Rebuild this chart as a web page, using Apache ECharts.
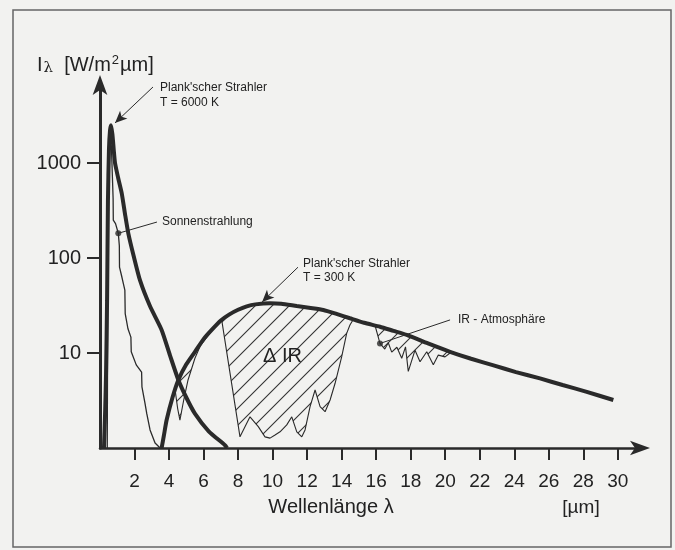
<!DOCTYPE html>
<html><head><meta charset="utf-8">
<script src="https://cdn.jsdelivr.net/npm/echarts@6/dist/echarts.min.js"></script>
<style>html,body{margin:0;padding:0;background:#f2f2f0;}#c{width:675px;height:550px;}</style>
</head><body><div id="c"></div>
<script>
const xTicks = [2,4,6,8,10,12,14,16,18,20,22,24,26,28,30];
const yTicks = [10,100,1000];

const planck6000 = [[0.23,1],[0.3,2.5],[0.35,6],[0.41,36],[0.46,400],[0.52,1400],[0.58,2200],[0.64,2500],[0.72,2000],[0.8,1350],[0.87,1000],[1.05,700],[1.26,480],[1.45,290],[1.64,182],[1.95,105],[2.32,58],[2.9,31],[3.57,17.5],[4.05,9.5],[4.54,5.2],[5.0,3.4],[5.5,2.3],[6.3,1.5],[7.24,1.07],[7.36,1]];

const sun = [[0.42,1],[0.45,60],[0.48,500],[0.53,1300],[0.6,1750],[0.66,1500],[0.72,700],[0.76,420],[0.77,250],[0.9,230],[1.06,182],[1.12,135],[1.13,80],[1.25,65],[1.35,54],[1.44,46],[1.46,26],[1.62,18],[1.79,14.7],[1.81,10.3],[2.1,7.5],[2.41,6.3],[2.43,4.4],[2.6,3.0],[2.71,2.3],[2.9,1.55],[3.19,1.13],[3.48,1.0]];

const planck300 = [[3.57,1],[3.7,1.35],[3.86,1.97],[4.2,3.4],[4.54,5.2],[5.0,7.6],[5.5,10.3],[6.0,14],[6.47,17.5],[7.0,22],[7.5,25.5],[8.0,28.5],[8.5,31],[9.0,32.5],[9.85,33.4],[10.5,33],[11.4,31.2],[12.2,29.8],[12.94,28.4],[13.7,25.8],[14.48,23.2],[15.3,20.8],[16.22,18.9],[17.0,17.1],[17.77,15.5],[19.0,12.6],[20.28,10.3],[21.5,8.7],[22.8,7.4],[24.1,6.3],[25.49,5.4],[26.8,4.6],[28.2,3.9],[29.74,3.2]];

const irLeft = [[4.35,4.1],[4.5,2.6],[4.63,1.97],[4.85,3.2],[5.1,5.2],[5.5,8.8],[5.8,11.8],[6.4,16.5],[7.05,22.3]];
const irMid = [[7.05,22.3],[8.11,1.31],[8.69,2.13],[9.17,1.68],[9.56,1.31],[9.85,1.27],[10.14,1.37],[10.43,1.48],[10.82,1.75],[11.11,2.13],[11.4,1.48],[11.69,1.31],[11.88,1.55],[12.17,2.72],[12.46,4.08],[12.75,2.72],[13.04,2.41],[13.33,3.2],[13.62,4.8],[14.0,9.1],[14.29,16.1],[14.48,19.7],[14.68,22.7]];
const irRight = [[15.93,19.6],[16.22,12.6],[16.5,11.0],[16.7,12.8],[16.9,10.2],[17.2,11.5],[17.48,8.8],[17.7,11.6],[17.86,6.4],[18.25,10.7],[18.54,8.1],[18.93,10.3],[19.31,7.5],[19.6,9.5],[19.99,9.1],[20.28,10.0],[20.6,9.9]];

const dots = [[1.06,182],[16.22,12.6]];
// pointer lines: [start, end, end symbol]
const pointers = [
  [[3.07,6310],[0.87,2640],'arrow'],
  [[11.47,80],[9.39,34.4],'arrow'],
  [[3.3,239],[1.06,182],'none'],
  [[20.28,22.3],[16.22,12.6],'none']
];

const hatchRegions = [irLeft, irMid, irRight].map(function (low) {
  const x0 = low[0][0], x1 = low[low.length - 1][0];
  const up = planck300.filter(function (p) { return p[0] > x0 && p[0] < x1; }).reverse();
  return low.concat(up);
});

const ink = '#2a2a2a';
const font = 'Liberation Sans, Arial, sans-serif';

const tile = document.createElement('canvas');
const S = 17;
tile.width = S; tile.height = S;
(function () {
  const c = tile.getContext('2d');
  c.strokeStyle = '#333'; c.lineWidth = 1.1;
  c.beginPath();
  c.moveTo(-2, S + 2); c.lineTo(S + 2, -2);
  c.moveTo(-2, 2); c.lineTo(2, -2);
  c.moveTo(S - 2, S + 2); c.lineTo(S + 2, S - 2);
  c.stroke();
})();

const chart = echarts.init(document.getElementById('c'), null, {renderer: 'canvas'});
const irLine = irLeft.concat(irMid.slice(1)).concat([['-','-']]).concat(irRight);

chart.setOption({
  backgroundColor: '#f2f2f0',
  animation: false,
  grid: {left: 100, right: 33, top: 83, bottom: 102},
  xAxis: {
    type: 'value', min: 0, max: 31.4,
    splitLine: {show: false},
    axisLine: {lineStyle: {color: ink, width: 2.5}, symbol: ['none', 'arrow'], symbolSize: [11, 20], symbolOffset: [0, 8]},
    axisTick: {customValues: xTicks, length: 12, lineStyle: {color: ink, width: 2}},
    axisLabel: {customValues: xTicks, margin: 24, fontSize: 19, color: '#222', fontFamily: font,
      formatter: function (v) { return String(v); }}
  },
  yAxis: {
    type: 'log', min: 1, max: 6950, logBase: 10,
    splitLine: {show: false},
    axisLine: {lineStyle: {color: ink, width: 3}, symbol: ['none', 'arrow'], symbolSize: [11, 20], symbolOffset: [0, 8]},
    axisTick: {customValues: yTicks, length: 13, lineStyle: {color: ink, width: 2}},
    axisLabel: {customValues: yTicks, margin: 19, fontSize: 20, color: '#222', fontFamily: font,
      formatter: function (v) { return String(Math.round(v)); }}
  },
  graphic: [
    {type: 'rect', shape: {x: 13, y: 10, width: 658, height: 537}, style: {fill: null, stroke: '#666', lineWidth: 1.5}, z: -10},
    {type: 'text', x: 37, y: 65, style: {text: '{a|I}{b|λ}{a|  [W/m}{s|2}{a|µm]}', verticalAlign: 'middle', rich: {
      a: {fontSize: 20, fontFamily: font, fill: '#222'},
      b: {fontSize: 15, fontFamily: 'DejaVu Serif, serif', fill: '#222', padding: [6, 0, 0, 1]},
      s: {fontSize: 13, fontFamily: font, fill: '#222', verticalAlign: 'top', padding: [0, 1, 10, 1]}
    }}},
    {type: 'text', x: 160, y: 88, style: {text: "Plank'scher Strahler", fontSize: 12, fontFamily: font, fill: '#222', verticalAlign: 'middle'}},
    {type: 'text', x: 160, y: 103, style: {text: 'T = 6000 K', fontSize: 12, fontFamily: font, fill: '#222', verticalAlign: 'middle'}},
    {type: 'text', x: 162, y: 222, style: {text: 'Sonnenstrahlung', fontSize: 12, fontFamily: font, fill: '#222', verticalAlign: 'middle'}},
    {type: 'text', x: 303, y: 264, style: {text: "Plank'scher Strahler", fontSize: 12, fontFamily: font, fill: '#222', verticalAlign: 'middle'}},
    {type: 'text', x: 303, y: 278, style: {text: 'T = 300 K', fontSize: 12, fontFamily: font, fill: '#222', verticalAlign: 'middle'}},
    {type: 'text', x: 458, y: 320, style: {text: 'IR - Atmosphäre', fontSize: 12, fontFamily: font, fill: '#222', verticalAlign: 'middle'}},
    {type: 'text', x: 263, y: 356, style: {text: 'Δ IR', fontSize: 20, fontFamily: font, fill: '#222', verticalAlign: 'middle'}, z: 100},
    {type: 'text', x: 331, y: 507, style: {text: 'Wellenlänge λ', fontSize: 20, fontFamily: font, fill: '#222', align: 'center', verticalAlign: 'middle'}},
    {type: 'text', x: 581, y: 508, style: {text: '[µm]', fontSize: 19, fontFamily: font, fill: '#222', align: 'center', verticalAlign: 'middle'}}
  ],
  series: [
    {
      type: 'custom', name: 'hatch', z: 1,
      data: [[5, 5], [10, 5], [18, 10]],
      renderItem: function (params, api) {
        const poly = hatchRegions[params.dataIndex];
        return {type: 'polygon', shape: {points: poly.map(function (p) { return api.coord(p); })},
          style: {fill: {image: tile, repeat: 'repeat'}, stroke: null}};
      }
    },
    {type: 'line', name: 'IR-Atmosphäre', data: irLine, showSymbol: false, connectNulls: false, z: 3,
      lineStyle: {color: ink, width: 1.1}},
    {type: 'line', name: 'Sonnenstrahlung', data: sun, showSymbol: false, z: 3,
      lineStyle: {color: ink, width: 1.3}},
    {type: 'line', name: 'Planck 6000K', data: planck6000, showSymbol: false, smooth: 0.2, z: 4,
      lineStyle: {color: ink, width: 4}},
    {type: 'line', name: 'Planck 300K', data: planck300, showSymbol: false, smooth: 0.2, z: 4,
      lineStyle: {color: ink, width: 4},
      markLine: {silent: true, animation: false, symbolSize: [8, 12],
        lineStyle: {color: ink, width: 1, type: 'solid'}, label: {show: false},
        data: pointers.map(function (p) {
          return [{coord: p[0], symbol: 'none'}, {coord: p[1], symbol: p[2]}];
        })}
    },
    {type: 'scatter', name: 'dots', data: dots, symbolSize: 6, z: 5, itemStyle: {color: ink}}
  ]
});
</script>
</body></html>
